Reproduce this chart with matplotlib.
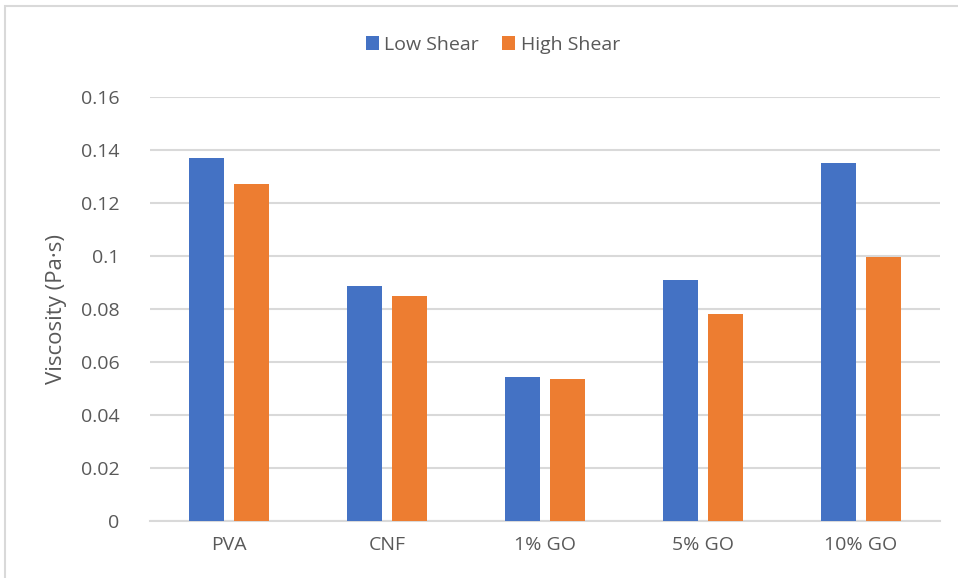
import numpy as np
import matplotlib.pyplot as plt
from matplotlib.patches import Rectangle

# Viscosity at low and high shear for each sample
samples = ['PVA', 'CNF', '1% GO', '5% GO', '10% GO']
low_shear = [0.137, 0.0887, 0.0543, 0.0909, 0.1351]
high_shear = [0.1272, 0.0849, 0.0536, 0.0781, 0.0996]

plt.rcParams['font.family'] = ['Open Sans', 'DejaVu Sans']
text_col = '#595959'
grid_col = '#D9D9D9'

fig = plt.figure(figsize=(9.58, 5.78), dpi=100)
ax = fig.add_axes([150/958, 1-521/578, 790/958, 424/578])

x = np.arange(len(samples))
w = 0.22
ax.bar(x - 0.142, low_shear, w, color='#4472C4', label='Low Shear', zorder=3)
ax.bar(x + 0.142, high_shear, w, color='#ED7D31', label='High Shear', zorder=3)

ax.set_xlim(-0.5, len(samples) - 0.5)
ax.set_ylim(0, 0.16)
ax.set_yticks(np.arange(0, 0.161, 0.02))
ax.set_yticklabels(['0', '0.02', '0.04', '0.06', '0.08', '0.1', '0.12', '0.14', '0.16'])
ax.set_xticks(x)
ax.set_xticklabels(samples)
ax.tick_params(length=0, labelsize=14, colors=text_col)
ax.tick_params(axis='y', pad=22)
ax.tick_params(axis='x', pad=11)
ax.yaxis.grid(True, color=grid_col, linewidth=1.5, zorder=0)
for s in ['top', 'right', 'left']:
    ax.spines[s].set_visible(False)
ax.spines['bottom'].set_color(grid_col)
ax.spines['bottom'].set_linewidth(1.5)

ax.set_ylabel('Viscosity (Pa·s)', fontsize=16, color=text_col, labelpad=10)

fig.legend(loc='center', bbox_to_anchor=(493/958, 1-45/578), ncol=2,
           frameon=False, fontsize=14, labelcolor=text_col,
           handlelength=0.65, handleheight=0.7, handletextpad=0.3, columnspacing=1.2)

# outer chart frame
fig.patches.append(Rectangle((5/958, -0.05), 1.1, 1 - 6/578 + 0.05,
                             transform=fig.transFigure, fill=False,
                             edgecolor='#D9D9D9', linewidth=1.5))

fig.savefig('out.png', dpi=100)
